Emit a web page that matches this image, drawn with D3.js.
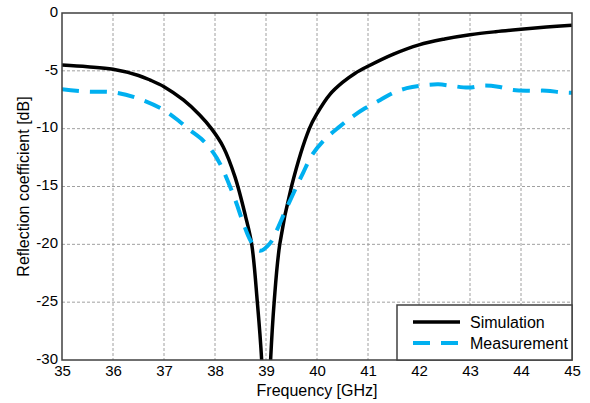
<!DOCTYPE html>
<html><head><meta charset="utf-8">
<script src="https://cdn.jsdelivr.net/npm/d3@7"></script>
<style>body{margin:0;background:#fff}svg{display:block;font-family:"Liberation Sans",Arial,sans-serif}</style>
</head><body><svg id="c" width="590" height="403"></svg>
<script>
const xTicks = [35,36,37,38,39,40,41,42,43,44,45];
const yTicks = [0,-5,-10,-15,-20,-25,-30];
const simFreq = [35,35.5,36,36.5,36.73,37,37.38,37.7,37.93,38.16,38.39,38.6,38.72,38.83,38.915,39.0,39.09,39.16,39.27,39.5,39.85,40,40.25,40.5,40.75,41,41.5,42,42.5,43,43.5,44,44.5,45];
const simDb   = [-4.5,-4.65,-4.87,-5.4,-5.8,-6.37,-7.52,-8.82,-10,-11.56,-14.15,-17.6,-20,-25,-30,-40,-30,-25,-20,-15,-10,-8.7,-7.05,-6.0,-5.2,-4.6,-3.55,-2.75,-2.25,-1.88,-1.62,-1.41,-1.22,-1.05];
const measFreq = [35,35.5,36,36.5,37,37.31,37.5,37.76,37.97,38.13,38.23,38.4,38.55,38.7,38.88,39.08,39.21,39.4,39.6,39.73,39.9,40.16,40.45,40.65,40.94,41.24,41.5,41.76,42.0,42.38,42.64,42.97,43.26,43.55,43.85,44.18,44.5,44.8,45];
const measDb   = [-6.6,-6.8,-6.85,-7.4,-8.4,-9.4,-10.1,-11,-12.1,-13.3,-14.3,-16.2,-18.1,-19.7,-20.55,-19.9,-18.8,-16.9,-15.0,-13.8,-12.3,-10.9,-9.8,-9.1,-8.24,-7.52,-6.89,-6.5,-6.3,-6.17,-6.3,-6.45,-6.28,-6.37,-6.66,-6.72,-6.72,-6.86,-6.9];
const seriesNames = ["Simulation","Measurement"];

const svg = d3.select("#c");
const L=62,R=572,T=13,B=360;
const x = d3.scaleLinear().domain([35,45]).range([L,R]);
const y = d3.scaleLinear().domain([-30,0]).range([B,T]);

svg.append("defs").append("clipPath").attr("id","clip").append("rect")
  .attr("x",L).attr("y",T).attr("width",R-L).attr("height",B-T);

// grid
const g = svg.append("g");
g.selectAll(".gx").data(xTicks.slice(1,-1)).join("line")
  .attr("x1",d=>x(d)).attr("x2",d=>x(d)).attr("y1",T).attr("y2",B)
  .attr("stroke","#a0a0a0").attr("stroke-width",1).attr("stroke-dasharray","3,2");
g.selectAll(".gy").data(yTicks.slice(1,-1)).join("line")
  .attr("y1",d=>y(d)).attr("y2",d=>y(d)).attr("x1",L).attr("x2",R)
  .attr("stroke","#a0a0a0").attr("stroke-width",1).attr("stroke-dasharray","3,2");

// axes
const xa = svg.append("g").attr("transform",`translate(0,${B})`)
  .call(d3.axisBottom(x).tickValues(xTicks).tickSize(0).tickPadding(5).tickFormat(d3.format("d")));
const ya = svg.append("g").attr("transform",`translate(${L},0)`)
  .call(d3.axisLeft(y).tickValues(yTicks).tickSize(0).tickPadding(4).tickFormat(d=>d===0?"0":"-"+Math.abs(d)));
[xa,ya].forEach(a=>{a.select(".domain").remove();a.selectAll("text").attr("font-size",15).attr("fill","#000").attr("font-family","Liberation Sans, Arial, sans-serif");});
ya.selectAll("text").attr("dy","0.22em");

// lines
const lineGen = d3.line().x(d=>x(d[0])).y(d=>y(d[1])).curve(d3.curveCatmullRom.alpha(0.5));
const sim = simFreq.map((f,i)=>[f,simDb[i]]);
const meas = measFreq.map((f,i)=>[f,measDb[i]]);
const pg = svg.append("g").attr("clip-path","url(#clip)");
pg.append("path").attr("d",lineGen(sim)).attr("fill","none").attr("stroke","#000").attr("stroke-width",3.5);
pg.append("path").attr("d",lineGen(meas)).attr("fill","none").attr("stroke","#00b0f0").attr("stroke-width",4).attr("stroke-dasharray","17,11");

// frame
svg.append("rect").attr("x",L).attr("y",T).attr("width",R-L).attr("height",B-T)
  .attr("fill","none").attr("stroke","#404040").attr("stroke-width",1.5);

// labels
svg.append("text").attr("x",(L+R)/2).attr("y",396).attr("text-anchor","middle").attr("font-size",16).text("Frequency [GHz]");
svg.append("text").attr("transform",`translate(29,${(T+B)/2}) rotate(-90)`).attr("text-anchor","middle").attr("font-size",16).text("Reflection coefficient [dB]");

// legend
const lg = svg.append("g");
lg.append("rect").attr("x",397).attr("y",305).attr("width",R-397).attr("height",B-305).attr("fill","#fff").attr("stroke","#404040").attr("stroke-width",1.5);
const styles = [{c:"#000",w:3.5,d:null},{c:"#00b0f0",w:4,d:"17,11"}];
seriesNames.forEach((n,i)=>{
  const yy = 322 + i*21;
  lg.append("line").attr("x1",413).attr("x2",460).attr("y1",yy).attr("y2",yy)
    .attr("stroke",styles[i].c).attr("stroke-width",styles[i].w).attr("stroke-dasharray",styles[i].d);
  lg.append("text").attr("x",470).attr("y",yy+5.5).attr("font-size",16).text(n);
});
</script></body></html>
